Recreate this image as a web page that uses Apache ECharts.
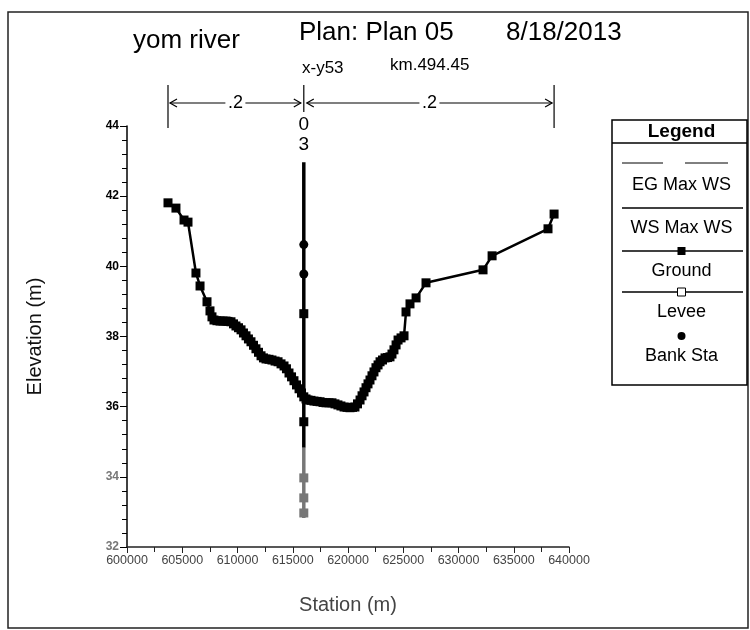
<!DOCTYPE html>
<html><head><meta charset="utf-8">
<script src="https://cdn.jsdelivr.net/npm/echarts@6/dist/echarts.min.js"></script>
<style>html,body{margin:0;padding:0;background:#fff}#c{width:750px;height:630px}</style>
</head><body><div id="c"></div>
<script>
// ---- data ----
const groundStation = [603710, 604430, 605160, 605520, 606240, 606610, 607240, 607510, 607690, 607870,
  608140, 608420, 608690, 608960, 609140, 609410, 609640, 609860, 610090, 610320,
  610540, 610770, 610990, 611220, 611450, 611670, 611900, 612130, 612350, 612580,
  612850, 613120, 613400, 613670, 613940, 614210, 614430, 614660, 614890, 615110,
  615340, 615570, 615790, 616000, 616200, 616380, 616650, 616920, 617200, 617470,
  617740, 618010, 618280, 618550, 618820, 619090, 619360, 619640, 619910, 620180,
  620410, 620630, 620860, 621090, 621270, 621450, 621630, 621810, 621990, 622170,
  622350, 622530, 622720, 622900, 623120, 623350, 623580, 623800, 623980, 624160,
  624350, 624530, 624800, 625070, 625250, 625610, 626160, 627060, 632220, 633040,
  638100, 638650];
const groundElev = [41.81, 41.66, 41.32, 41.26, 39.81, 39.44, 38.99, 38.73, 38.56, 38.47,
  38.45, 38.44, 38.44, 38.44, 38.43, 38.42, 38.36, 38.30, 38.25, 38.19,
  38.10, 38.02, 37.93, 37.85, 37.75, 37.65, 37.55, 37.45, 37.39, 37.36,
  37.35, 37.33, 37.30, 37.28, 37.22, 37.16, 37.08, 36.96, 36.85, 36.74,
  36.62, 36.51, 36.39, 36.28, 36.22, 36.19, 36.18, 36.16, 36.15, 36.14,
  36.12, 36.11, 36.11, 36.11, 36.08, 36.05, 36.02, 35.99, 35.98, 35.97,
  35.98, 35.99, 36.08, 36.19, 36.31, 36.42, 36.54, 36.65, 36.76, 36.88,
  36.99, 37.11, 37.19, 37.28, 37.33, 37.39, 37.40, 37.42, 37.50, 37.62,
  37.76, 37.90, 37.96, 38.02, 38.70, 38.93, 39.10, 39.53, 39.90, 40.30,
  41.07, 41.49];
const sectionStation = 616000;
const sectionElevUpper = [42.97, 40.62, 39.78, 38.65, 36.28, 35.57, 34.83];
const sectionMarkUpper = ['none', 'circle', 'circle', 'rect', 'none', 'rect', 'none'];
const sectionElevLower = [34.83, 33.97, 33.40, 32.97, 32.83];
const sectionMarkLower = ['none', 'rect', 'rect', 'rect', 'none'];
const reachLengthLabels = ['.2', '.2'];
const sectionLabels = ['0', '3'];
const legendItems = ['EG Max WS', 'WS Max WS', 'Ground', 'Levee', 'Bank Sta'];
const titleMain = ['yom river', 'Plan: Plan 05', '8/18/2013'];
const titleSub = ['x-y53', 'km.494.45'];
const xMin = 600000, xMax = 640000, xStep = 5000;
const yMin = 32, yMax = 44, yStep = 2;

const FONT = '"Liberation Sans", Arial, sans-serif';
const chart = echarts.init(document.getElementById('c'), null, {renderer: 'canvas'});

const groundData = groundStation.map((s, i) => [s, groundElev[i]]);
const upperData = sectionElevUpper.map((e, i) => ({value: [sectionStation, e], symbol: sectionMarkUpper[i]}));
const lowerData = sectionElevLower.map((e, i) => ({value: [sectionStation, e], symbol: sectionMarkLower[i]}));

const tStyle = (size) => ({fontSize: size, fontWeight: 'normal', color: '#000', fontFamily: FONT});
const option = {
  backgroundColor: '#fff',
  animation: false,
  textStyle: {fontFamily: FONT},
  grid: {left: 127, right: 181, top: 126, bottom: 83, containLabel: false},
  xAxis: {
    type: 'value', min: xMin, max: xMax, interval: xStep,
    name: 'Station (m)', nameLocation: 'middle', nameGap: 48,
    nameTextStyle: {fontSize: 20, color: '#444', fontFamily: FONT},
    axisLine: {lineStyle: {color: '#222', width: 1.5}},
    axisTick: {show: true, length: 6, lineStyle: {color: '#222'}},
    minorTick: {show: true, splitNumber: 2, length: 5, lineStyle: {color: '#222'}},
    splitLine: {show: false},
    axisLabel: {fontSize: 12.5, color: '#444', margin: 7, fontFamily: FONT, formatter: (v) => String(v)}
  },
  yAxis: {
    type: 'value', min: yMin, max: yMax, interval: yStep,
    name: 'Elevation (m)', nameLocation: 'middle', nameGap: 82,
    nameTextStyle: {fontSize: 20, color: '#111', fontFamily: FONT},
    axisLine: {show: true, lineStyle: {color: '#000', width: 1.5}},
    axisTick: {show: true, length: 7, lineStyle: {color: '#000'}},
    minorTick: {show: true, splitNumber: 5, length: 5, lineStyle: {color: '#000'}},
    splitLine: {show: false},
    axisLabel: {fontSize: 12, fontWeight: 'bold', margin: 8, fontFamily: FONT,
      color: (v) => (+v <= 34 ? '#777' : '#000')}
  },
  series: [
    {
      name: 'Ground', type: 'line', data: groundData,
      symbol: 'rect', symbolSize: 9, showSymbol: true,
      lineStyle: {color: '#000', width: 2.5},
      itemStyle: {color: '#000'}, z: 3
    },
    {
      name: 'Section', type: 'line', data: upperData,
      symbolSize: 9, lineStyle: {color: '#000', width: 3.5},
      itemStyle: {color: '#000'}, z: 4
    },
    {
      name: 'SectionLow', type: 'line', data: lowerData,
      symbolSize: 9, lineStyle: {color: '#777', width: 3.5},
      itemStyle: {color: '#777'}, z: 4
    }
  ],
  title: [
    {text: titleMain[0], left: 133, top: 28, padding: 0, textStyle: tStyle(26)},
    {text: titleMain[1], left: 299, top: 20, padding: 0, textStyle: tStyle(26)},
    {text: titleMain[2], left: 506, top: 20, padding: 0, textStyle: tStyle(26)},
    {text: titleSub[0], left: 302, top: 60, padding: 0, textStyle: tStyle(17)},
    {text: titleSub[1], left: 390, top: 57, padding: 0, textStyle: tStyle(17)}
  ]
};
chart.setOption(option);

// ---- annotations tied to data coordinates ----
const px = (s, e) => chart.convertToPixel({gridIndex: 0}, [s, e]);
const xL = px(groundStation[0], 40)[0];
const xC = px(sectionStation, 40)[0];
const xR = px(groundStation[groundStation.length - 1], 40)[0];
const topSec = px(sectionStation, sectionElevUpper[0])[1];
const ay = 103;
const g = [];
const line = (pts, w, c, dash) => g.push({type: 'polyline', shape: {points: pts}, style: {stroke: c || '#000', lineWidth: w || 1.2, fill: null, lineDash: dash || null}, silent: true});
// outer frame
g.push({type: 'rect', shape: {x: 8, y: 12, width: 740, height: 616}, style: {stroke: '#222', lineWidth: 1.5, fill: null}, silent: true});
// reach length dimension lines
line([[xL, 85], [xL, 128]]);
line([[xR, 85], [xR, 128]]);
line([[xC, 85], [xC, 112]]);
const arrow = (x1, x2, lbl) => {
  const mid = (x1 + x2) / 2;
  line([[x1 + 2, ay], [mid - 10, ay]]);
  line([[mid + 10, ay], [x2 - 2, ay]]);
  line([[x1 + 9, ay - 4], [x1 + 2, ay], [x1 + 9, ay + 4]]);
  line([[x2 - 9, ay - 4], [x2 - 2, ay], [x2 - 9, ay + 4]]);
  g.push({type: 'text', x: mid, y: ay, style: {text: lbl, font: '18px ' + FONT, fill: '#000', textAlign: 'center', textVerticalAlign: 'middle'}});
};
arrow(xL, xC - 1, reachLengthLabels[0]);
arrow(xC + 1, xR, reachLengthLabels[1]);
// section labels
g.push({type: 'text', x: xC, y: topSec - 37, style: {text: sectionLabels[0], font: '19px ' + FONT, fill: '#000', textAlign: 'center', textVerticalAlign: 'middle'}});
g.push({type: 'text', x: xC, y: topSec - 17, style: {text: sectionLabels[1], font: '19px ' + FONT, fill: '#000', textAlign: 'center', textVerticalAlign: 'middle'}});
// legend box
const LX = 612, LY = 120, LW = 135, LH = 265, cx = LX + LW / 2 + 2;
g.push({type: 'rect', shape: {x: LX, y: LY, width: LW, height: LH}, style: {stroke: '#000', lineWidth: 1.5, fill: '#fff'}});
line([[LX, 143], [LX + LW, 143]], 1.5);
g.push({type: 'text', x: cx, y: 132, style: {text: 'Legend', font: 'bold 19px ' + FONT, fill: '#000', textAlign: 'center', textVerticalAlign: 'middle'}});
line([[622, 163], [663, 163]], 1);
line([[685, 163], [728, 163]], 1);
line([[622, 208], [743, 208]], 1.5);
line([[622, 251], [743, 251]], 1.5);
g.push({type: 'rect', shape: {x: cx - 4, y: 247, width: 8, height: 8}, style: {fill: '#000'}});
line([[622, 292], [743, 292]], 1.5);
g.push({type: 'rect', shape: {x: cx - 4, y: 288, width: 8, height: 8}, style: {fill: '#fff', stroke: '#000', lineWidth: 1}});
g.push({type: 'circle', shape: {cx: cx, cy: 336, r: 4}, style: {fill: '#000'}});
const ly = [185, 228, 271, 312, 356];
legendItems.forEach((t, i) => g.push({type: 'text', x: cx, y: ly[i], style: {text: t, font: '18px ' + FONT, fill: '#000', textAlign: 'center', textVerticalAlign: 'middle'}}));
chart.setOption({graphic: g});
</script></body></html>
